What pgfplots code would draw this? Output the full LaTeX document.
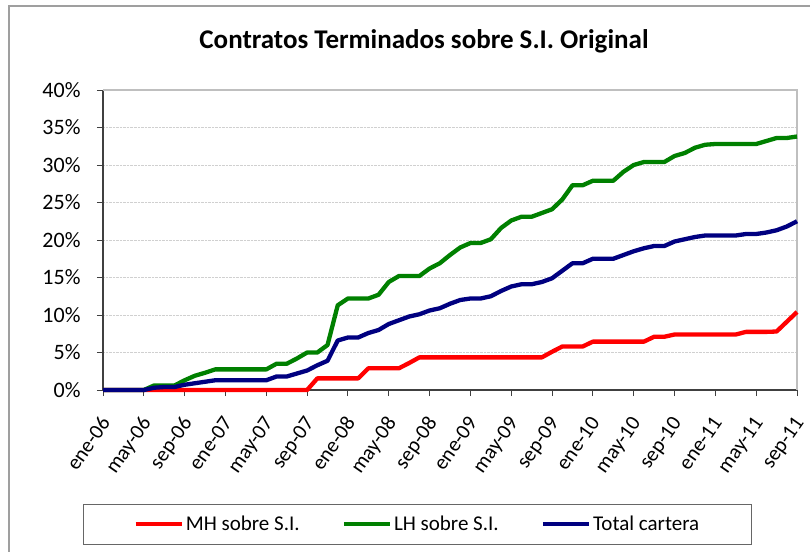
\documentclass[border=0pt]{standalone}
\usepackage{fontspec}
\setmainfont{Carlito}
\usepackage{pgfplots}
\usepackage{pgfplotstable}
\pgfplotsset{compat=1.18}
\definecolor{MHred}{HTML}{FF0000}
\definecolor{LHgreen}{HTML}{008000}
\definecolor{TotNavy}{HTML}{000080}
\definecolor{FrameGray}{HTML}{BFBFBF}
\definecolor{GridGray}{HTML}{D0D0D0}

% m = months since ene-06; values in %
\pgfplotstableread{
m mh lh tot
0 0 0 0
1 0 0 0
2 0 0 0
3 0 0 0
4 0 0 0
5 0 0.6 0.3
6 0 0.6 0.4
7 0 0.6 0.4
8 0 1.3 0.7
9 0 1.9 0.9
10 0 2.3 1.1
11 0 2.75 1.3
12 0 2.75 1.3
13 0 2.75 1.3
14 0 2.75 1.3
15 0 2.75 1.3
16 0 2.75 1.3
17 0 3.5 1.8
18 0 3.5 1.8
19 0 4.2 2.2
20 0 5.0 2.6
21 1.55 5.0 3.3
22 1.55 6.0 3.9
23 1.55 11.3 6.6
24 1.55 12.2 7.0
25 1.55 12.2 7.0
26 2.9 12.2 7.6
27 2.9 12.7 8.0
28 2.9 14.4 8.8
29 2.9 15.2 9.3
30 3.6 15.2 9.8
31 4.35 15.2 10.1
32 4.35 16.2 10.6
33 4.35 16.9 10.9
34 4.35 18.0 11.5
35 4.35 19.0 12.0
36 4.35 19.6 12.2
37 4.35 19.6 12.2
38 4.35 20.1 12.5
39 4.35 21.6 13.2
40 4.35 22.6 13.8
41 4.35 23.1 14.1
42 4.35 23.1 14.1
43 4.35 23.6 14.4
44 5.1 24.1 14.9
45 5.8 25.4 15.9
46 5.8 27.3 16.9
47 5.8 27.3 16.9
48 6.45 27.9 17.5
49 6.45 27.9 17.5
50 6.45 27.9 17.5
51 6.45 29.1 18.0
52 6.45 30.0 18.5
53 6.45 30.4 18.9
54 7.1 30.4 19.2
55 7.1 30.4 19.2
56 7.4 31.2 19.8
57 7.4 31.6 20.1
58 7.4 32.3 20.4
59 7.4 32.7 20.6
60 7.4 32.8 20.6
61 7.4 32.8 20.6
62 7.4 32.8 20.6
63 7.75 32.8 20.8
64 7.75 32.8 20.8
65 7.75 33.2 21.0
66 7.8 33.6 21.3
67 9.1 33.6 21.8
68 10.4 33.8 22.5
}\datatable

\begin{document}
\begin{tikzpicture}
\path[use as bounding box] (0bp,0bp) rectangle (810bp,-552bp);
\draw[color=gray!75, line width=1.5bp] (9bp,-560bp) -- (9bp,-6bp) -- (820bp,-6bp);
\node[font=\bfseries\fontsize{27bp}{32bp}\selectfont, anchor=base] at (424bp,-48bp)
  {Contratos Terminados sobre S.I. Original};
\begin{axis}[
    at={(103bp,-390bp)}, anchor=south west,
    scale only axis, width=694bp, height=300bp,
    xmin=0, xmax=68, ymin=0, ymax=40,
    axis lines*=left,
    axis line style={-, color=black!75, line width=1.2bp},
    clip=false,
    xtick={0,4,...,68},
    xticklabels={ene-06,may-06,sep-06,ene-07,may-07,sep-07,ene-08,may-08,sep-08,
                 ene-09,may-09,sep-09,ene-10,may-10,sep-10,ene-11,may-11,sep-11},
    ytick={0,5,...,40},
    yticklabels={0\%,5\%,10\%,15\%,20\%,25\%,30\%,35\%,40\%},
    tick align=outside, major tick length=6bp,
    tick style={color=black!75, line width=1bp},
    xticklabel style={xshift=-4.5bp, yshift=-14bp, rotate=55, anchor=north east,
        font=\fontsize{21bp}{24bp}\selectfont},
    yticklabel style={font=\fontsize{22bp}{26bp}\selectfont, xshift=-13bp},
    ymajorgrids,
    grid style={densely dotted, color=GridGray, line width=1bp},
    legend columns=3,
    legend style={at={(axis description cs:0.453,-0.447)}, anchor=center,
        draw=black!60, line width=1bp, font=\fontsize{21bp}{25bp}\selectfont,
        inner xsep=50bp, inner ysep=10bp,
        /tikz/every even column/.append style={column sep=40bp}},
    legend image code/.code={\draw[#1] (0bp,0bp) -- (46bp,0bp);},
    every axis plot/.append style={line width=4.3bp, line join=round},
]
\draw[color=FrameGray, line width=2bp] (rel axis cs:0,1) -- (rel axis cs:1,1) -- (rel axis cs:1,0);
\addplot[color=MHred, mark=none] table[x=m, y=mh] {\datatable};
\addplot[color=LHgreen, mark=none] table[x=m, y=lh] {\datatable};
\addplot[color=TotNavy, mark=none] table[x=m, y=tot] {\datatable};
\legend{MH sobre S.I., LH sobre S.I., Total cartera}
\end{axis}
\end{tikzpicture}
\end{document}
